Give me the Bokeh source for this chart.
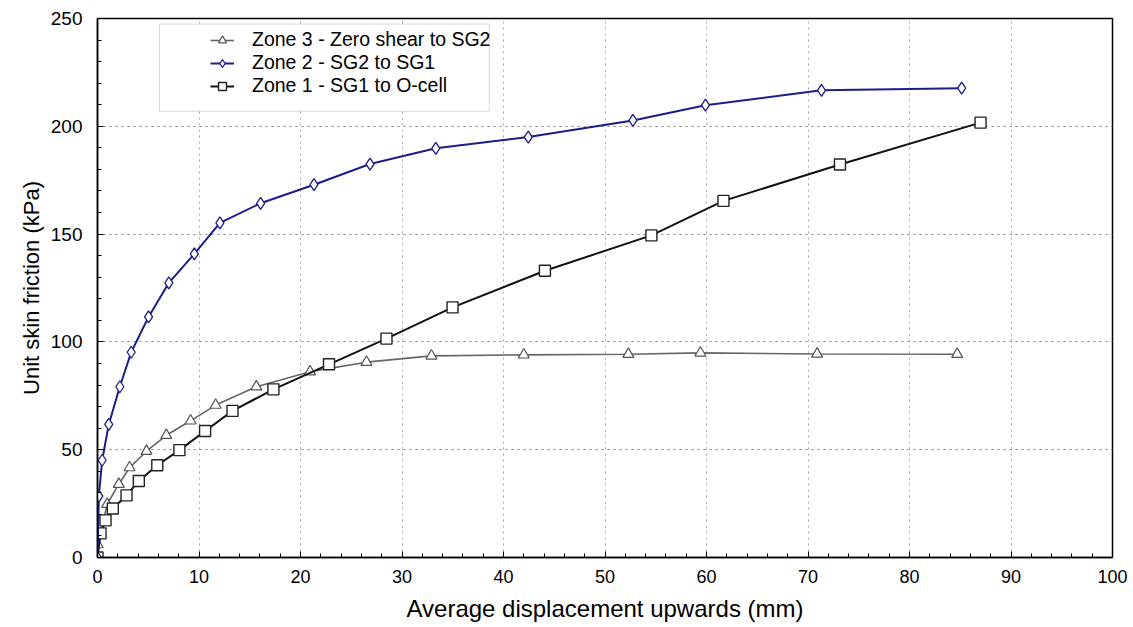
from bokeh.plotting import figure
from bokeh.models import Range1d, Legend, LegendItem, BoxAnnotation, SingleIntervalTicker
from bokeh.embed import file_html
from bokeh.resources import INLINE

# ---- data ----
zone3_x = [0, 0.03, 0.95, 2.1, 3.16, 4.83, 6.78, 9.17, 11.64, 15.65, 20.94, 26.5, 32.9, 42.0, 52.3, 59.4, 70.9, 84.7]
zone3_y = [0, 6.0, 24.7, 34.0, 41.7, 49.3, 56.7, 63.4, 70.7, 79.2, 86.2, 90.6, 93.5, 94.0, 94.3, 94.9, 94.4, 94.3]

zone2_x = [0, 0.13, 0.46, 1.11, 2.2, 3.32, 5.03, 7.03, 9.54, 12.06, 16.07, 21.33, 26.85, 33.33, 42.44, 52.75, 59.9, 71.33, 85.14]
zone2_y = [0, 28.5, 45.1, 61.7, 79.2, 95.2, 111.6, 127.4, 140.8, 155.2, 164.3, 172.9, 182.5, 189.8, 195.0, 202.7, 209.8, 216.7, 217.7]

zone1_x = [0, 0.3, 0.79, 1.51, 2.86, 4.07, 5.89, 8.07, 10.6, 13.3, 17.33, 22.81, 28.47, 34.98, 44.08, 54.57, 61.67, 73.15, 87.0]
zone1_y = [0, 11.2, 17.2, 22.7, 28.8, 35.5, 42.8, 49.8, 58.7, 68.0, 78.0, 89.6, 101.5, 116.0, 133.0, 149.4, 165.4, 182.3, 201.7]

labels = ["Zone 3 - Zero shear to SG2", "Zone 2 - SG2 to SG1", "Zone 1 - SG1 to O-cell"]
x_title = "Average displacement upwards (mm)"
y_title = "Unit skin friction (kPa)"

FONT = "Liberation Sans"

p = figure(width=1133, height=627, output_backend="svg", toolbar_location=None,
           x_range=Range1d(0, 100), y_range=Range1d(0, 250),
           min_border_left=97, min_border_right=21, min_border_top=18, min_border_bottom=70)

p.background_fill_color = "white"
p.border_fill_color = "white"
p.outline_line_color = "black"
p.outline_line_width = 1.5

for ax in (p.xaxis[0], p.yaxis[0]):
    ax.axis_line_color = "black"
    ax.axis_line_width = 1.5
    ax.major_tick_in = 6
    ax.major_tick_out = 0
    ax.minor_tick_in = 4
    ax.minor_tick_out = 0
    ax.major_tick_line_color = "black"
    ax.minor_tick_line_color = "black"
    ax.major_label_text_font = FONT
    ax.major_label_text_color = "black"
    ax.axis_label_text_font = FONT
    ax.axis_label_text_font_style = "normal"
    ax.axis_label_text_color = "black"

p.xaxis.major_label_text_font_size = "18px"
p.yaxis.major_label_text_font_size = "19px"
p.xaxis.axis_label_text_font_size = "24px"
p.yaxis.axis_label_text_font_size = "22px"

p.xaxis.ticker = SingleIntervalTicker(interval=10, num_minor_ticks=5)
p.yaxis.ticker = SingleIntervalTicker(interval=50, num_minor_ticks=5)
p.xaxis.axis_label = x_title
p.yaxis.axis_label = y_title
p.xaxis.major_label_standoff = 12
p.xaxis.axis_label_standoff = 9
p.yaxis.major_label_standoff = 15
p.yaxis.axis_label_standoff = 4

p.xgrid.grid_line_color = "#a8a8a8"
p.xgrid.grid_line_dash = "dotted"
p.ygrid.grid_line_color = "#808080"
p.ygrid.grid_line_dash = "dotted"

# legend box (white, grey border)
box = BoxAnnotation(left=6.1, right=38.6, top=247.4, bottom=207.0,
                    fill_color="white", fill_alpha=1.0,
                    line_color="#808080", line_width=1)
p.add_layout(box)

c3 = "#666666"
c2 = "#1c1c8a"
c1 = "#111111"

l3 = p.line(zone3_x, zone3_y, line_color=c3, line_width=1.6)
s3 = p.scatter(zone3_x, zone3_y, marker="triangle", size=11, line_color="#555555",
               fill_color="white", line_width=1.2)
l1 = p.line(zone1_x, zone1_y, line_color=c1, line_width=2)
s1 = p.scatter(zone1_x, zone1_y, marker="square", size=11, line_color="#222222",
               fill_color="white", line_width=1.4)
l2 = p.line(zone2_x, zone2_y, line_color=c2, line_width=2)
s2 = p.scatter(zone2_x, zone2_y, marker="diamond", size=12, line_color=c2,
               fill_color="white", line_width=1.3)

legend = Legend(items=[LegendItem(label=labels[0], renderers=[l3, s3]),
                       LegendItem(label=labels[1], renderers=[l2, s2]),
                       LegendItem(label=labels[2], renderers=[l1, s1])],
                location=(113, 460), orientation="vertical",
                border_line_color=None, background_fill_alpha=0,
                padding=0, margin=0, spacing=0,
                glyph_width=24, glyph_height=20, label_height=20,
                label_standoff=18,
                label_text_font=FONT, label_text_font_size="19.5px",
                label_text_color="black")
p.add_layout(legend, "center")

open("out.html", "w").write(file_html(p, INLINE))
